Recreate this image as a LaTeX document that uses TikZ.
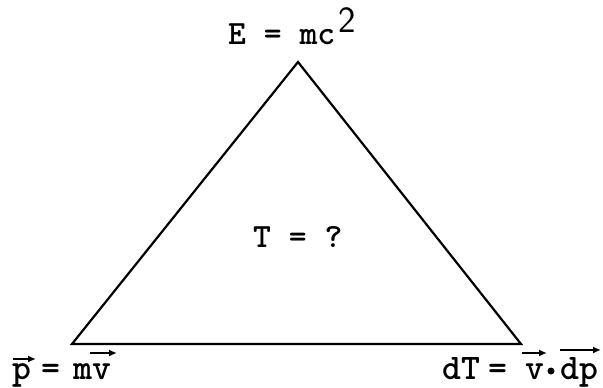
\documentclass[tikz,border=0pt]{standalone}
\usetikzlibrary{arrows.meta}
\begin{document}
\begin{tikzpicture}[x=1pt,y=-1pt,
  tri/.style={line width=2.2pt, line join=miter},
  lbl/.style={inner sep=0pt, anchor=base west, font=\fontsize{34}{40}\selectfont\ttfamily\bfseries},
  blbl/.style={inner sep=0pt, anchor=base west, font=\fontsize{36}{40}\selectfont\ttfamily\bfseries},
  suplbl/.style={inner sep=0pt, anchor=base west, font=\fontsize{37}{40}\selectfont\sffamily},
  vecarrow/.style={line width=2.2pt, -{Latex[length=8pt,width=7pt]}}]
\useasboundingbox (0,0) rectangle (603,388);
% triangle
\coordinate (A) at (298,62);
\coordinate (B) at (72,344);
\coordinate (C) at (521,344);
\draw[tri] (A) -- (B) -- (C) -- cycle;
% top label
\node[lbl] (E) at (228,45) {E = mc};
\node[suplbl] (two) at (338,32) {2};
% centre label
\node[lbl] (T) at (253,247) {T = ?};
% bottom left
\node[blbl] (p1) at (12,379) {p};
\node[blbl] (eq1) at (41,379) {=};
\node[blbl] (mv) at (73,379) {mv};
\coordinate (pa) at (13,359);
\coordinate (pb) at (36,359);
\coordinate (va) at (90,353);
\coordinate (vb) at (117,353);
\draw[vecarrow] (pa) -- (pb);
\draw[vecarrow] (va) -- (vb);
% bottom right
\node[blbl] (dT) at (442,379) {dT};
\node[blbl] (eq2) at (488,379) {=};
\node[blbl] (v2) at (525,379) {v};
\node[circle, fill=black, inner sep=0pt, minimum size=7pt] (dot) at (551,371) {};
\node[blbl] (dp) at (560,379) {dp};
\coordinate (wa) at (522,353);
\coordinate (wb) at (547,353);
\coordinate (xa) at (560,350);
\coordinate (xb) at (601,350);
\draw[vecarrow] (wa) -- (wb);
\draw[vecarrow] (xa) -- (xb);
\end{tikzpicture}
\end{document}
